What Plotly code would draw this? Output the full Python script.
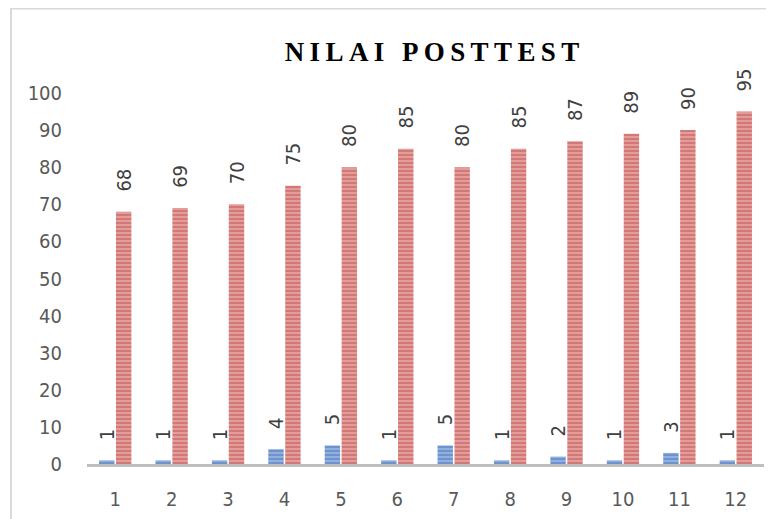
import plotly.graph_objects as go

# data
siswa = [str(i) for i in range(1, 13)]
frekuensi = [1, 1, 1, 4, 5, 1, 5, 1, 2, 1, 3, 1]
nilai = [68, 69, 70, 75, 80, 85, 80, 85, 87, 89, 90, 95]

fam = "Liberation Sans Narrow, DejaVu Sans Condensed, Lato"
label_font = dict(family=fam, size=20, color="#404040")
judul = "\u2009".join("NILAI POSTTEST")
pad = "\u00a0\u00a0\u00a0"  # push the rotated labels a bit off the bar tops

fig = go.Figure()
fig.add_trace(go.Bar(
    x=siswa, y=frekuensi, text=[pad + str(v) for v in frekuensi],
    textposition="outside", textangle=-90, textfont=label_font,
    constraintext="none", cliponaxis=False,
    marker=dict(color="#97B2DC", line=dict(width=0),
                pattern=dict(shape="-", fgcolor="#4472C4", size=4, solidity=0.55)),
))
fig.add_trace(go.Bar(
    x=siswa, y=nilai, text=[pad + str(v) for v in nilai],
    textposition="outside", textangle=-90, textfont=label_font,
    constraintext="none", cliponaxis=False,
    marker=dict(color="#E4A09E", line=dict(width=0),
                pattern=dict(shape="-", fgcolor="#C0504D", size=4, solidity=0.55)),
))

fig.update_layout(
    width=774, height=519,
    margin=dict(l=79, r=18, t=85, b=63, autoexpand=False),
    paper_bgcolor="white", plot_bgcolor="white",
    barmode="group", bargap=0.40, bargroupgap=0.09,
    showlegend=False,
    title=dict(text="<b>" + judul + "</b>", x=424 / 774, xanchor="center",
               y=1 - 44 / 519, yanchor="middle",
               font=dict(family="Liberation Serif", size=27, color="black")),
    font=dict(family=fam, color="#595959"),
    shapes=[dict(type="rect", xref="paper", yref="paper",
                 x0=(3 - 79) / 677, x1=1.2, y0=-0.3, y1=(456 - 0.5) / 371,
                 line=dict(color="#D9D9D9", width=2), layer="below")],
)
fig.update_xaxes(showline=True, linecolor="#BFBFBF", linewidth=3, showgrid=False,
                 automargin=False,
                 ticks="", ticklabelstandoff=15, tickfont=dict(size=20, color="#595959"))
fig.update_yaxes(range=[0, 100], dtick=10, showgrid=False, showline=False, zeroline=False,
                 automargin=False,
                 ticks="", ticklabelstandoff=24, tickfont=dict(size=20, color="#595959"))

fig.write_html("out.html")
